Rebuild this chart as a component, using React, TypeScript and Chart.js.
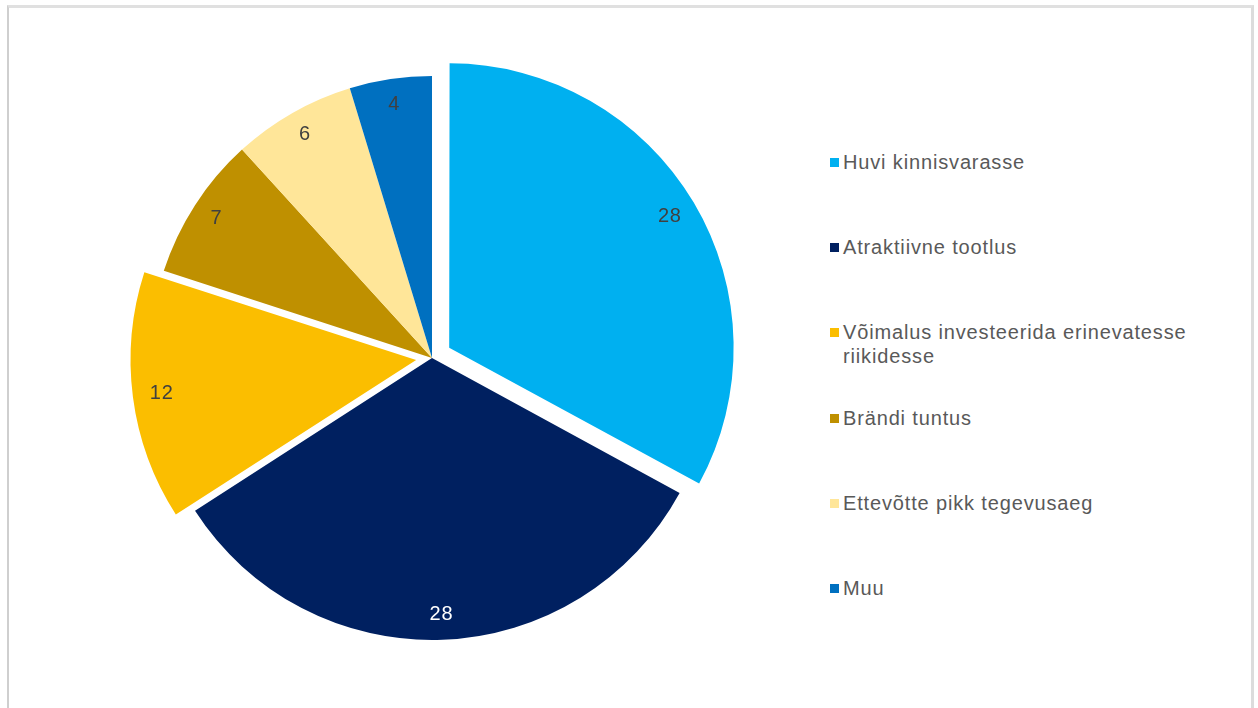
import React, { useEffect, useRef } from "react";
import { Chart, registerables } from "chart.js";

Chart.register(...registerables);

const categories = [
  "Huvi kinnisvarasse",
  "Atraktiivne tootlus",
  "Võimalus investeerida erinevatesse riikidesse",
  "Brändi tuntus",
  "Ettevõtte pikk tegevusaeg",
  "Muu",
];
const values = [28, 28, 12, 7, 6, 4];
const sliceColors = ["#00B0F0", "#002060", "#FBBE00", "#BF9000", "#FFE699", "#0070C0"];
const labelColors = ["#404040", "#FFFFFF", "#404040", "#404040", "#404040", "#404040"];
const explode = [80, 0, 64, 0, 0, 0];

const FONT = '"Liberation Sans", Arial, Helvetica, sans-serif';
const LABEL_RADIUS = 0.91;

const labelPlugin = {
  id: "sliceLabels",
  afterDatasetsDraw(chart: any) {
    const ctx = chart.ctx;
    const meta = chart.getDatasetMeta(0);
    ctx.save();
    ctx.font = `20px ${FONT}`;
    try {
      (ctx as any).letterSpacing = "0.8px";
    } catch (e) {}
    ctx.textAlign = "center";
    ctx.textBaseline = "middle";
    meta.data.forEach((arc: any, i: number) => {
      const p = arc.getProps(["x", "y", "startAngle", "endAngle", "outerRadius"], true);
      const mid = (p.startAngle + p.endAngle) / 2;
      const off = (arc.options.offset || 0) / 4;
      const rr = off + p.outerRadius * LABEL_RADIUS;
      const lx = p.x + Math.cos(mid) * rr;
      const ly = p.y + Math.sin(mid) * rr;
      ctx.fillStyle = labelColors[i];
      ctx.fillText(String(values[i]), lx, ly);
    });
    ctx.restore();
  },
};

export default function App() {
  const canvasRef = useRef<HTMLCanvasElement | null>(null);

  useEffect(() => {
    if (!canvasRef.current) return;
    const chart = new Chart(canvasRef.current, {
      type: "pie",
      data: {
        labels: categories,
        datasets: [
          {
            data: values,
            backgroundColor: sliceColors,
            borderWidth: 0,
            offset: explode,
            hoverOffset: 0,
          } as any,
        ],
      },
      options: {
        responsive: false,
        animation: false,
        radius: 282,
        layout: { padding: { left: 64, right: 0, top: 8, bottom: 0 } },
        plugins: {
          legend: { display: false },
          tooltip: { enabled: false },
        },
      } as any,
      plugins: [labelPlugin],
    });
    return () => chart.destroy();
  }, []);

  return (
    <div>
      <div
        style={{
          position: "absolute",
          left: 7,
          top: 5,
          width: 1247,
          height: 703,
          boxSizing: "border-box",
          borderTop: "3px solid #e0e0e0",
          borderLeft: "2px solid #cfcfcf",
          borderRight: "3px solid #dcdcdc",
          background: "#ffffff",
        }}
      />
      <canvas
        ref={canvasRef}
        width={800}
        height={708}
        style={{ position: "absolute", left: 0, top: 0, width: 800, height: 708 }}
      />
      <div
        style={{
          position: "absolute",
          left: 830,
          top: 150,
          width: 380,
          fontFamily: FONT,
          fontSize: 20,
          lineHeight: "24px",
          letterSpacing: "0.85px",
          color: "#595959",
        }}
      >
        {categories.map((c, i) => (
          <div key={c} style={{ display: "flex", alignItems: "flex-start", height: 85.2 }}>
            <div
              style={{
                width: 9,
                height: 9,
                marginTop: 8,
                marginRight: 4,
                background: sliceColors[i],
                flex: "0 0 auto",
              }}
            />
            <div style={{ width: 360 }}>{c}</div>
          </div>
        ))}
      </div>
    </div>
  );
}
